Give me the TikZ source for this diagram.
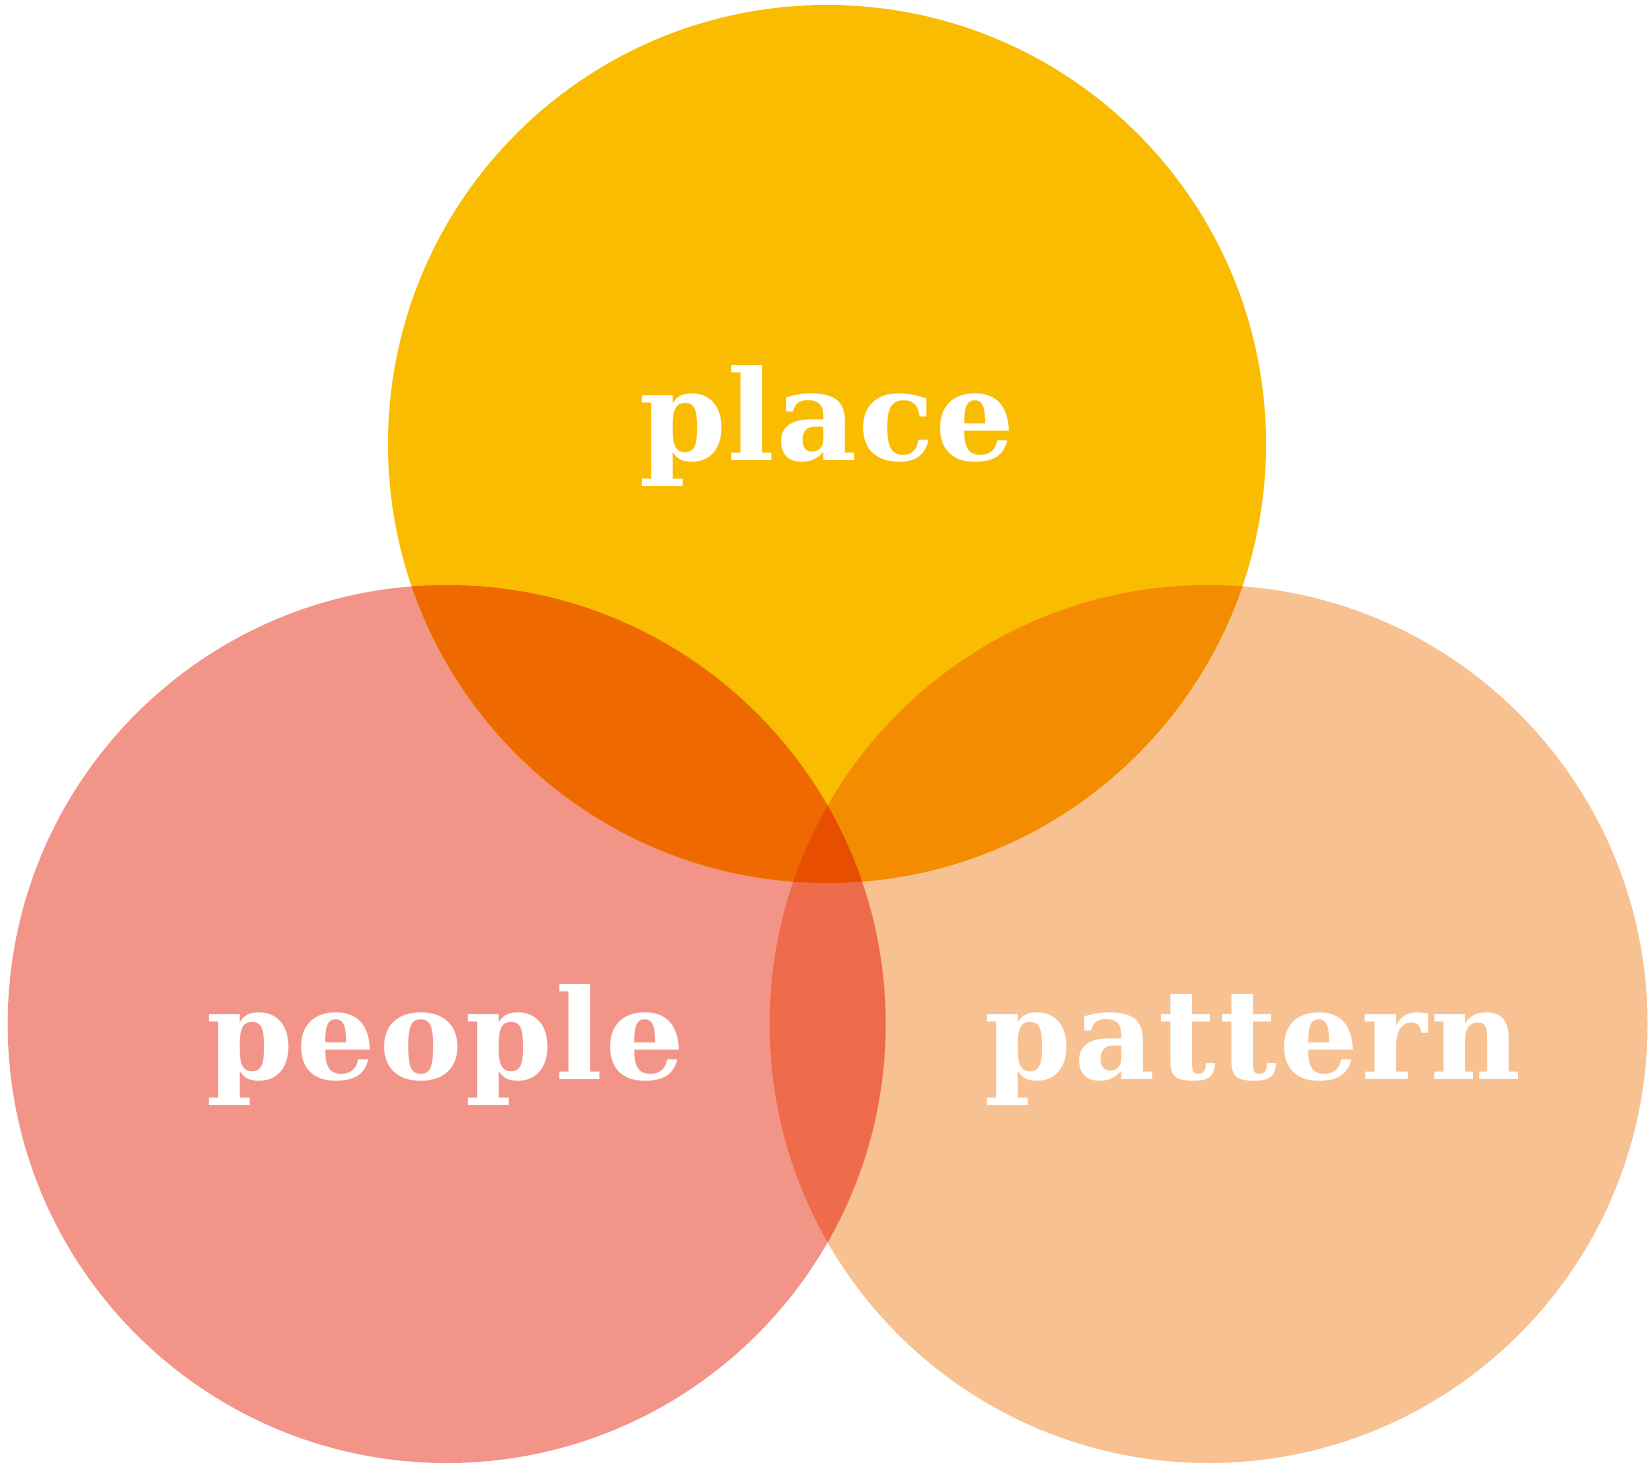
\documentclass[tikz,border=0pt]{standalone}
\usepackage{fontspec}
\newfontfamily\wordfont{DejaVu Serif}
\newfontfamily\wordfontwide[LetterSpace=2.2]{DejaVu Serif}
\newfontfamily\wordfontmid[LetterSpace=0.8]{DejaVu Serif}
\definecolor{cTop}{HTML}{F9BC00}
\definecolor{cLeft}{HTML}{F39488}
\definecolor{cRight}{HTML}{F8C192}
\definecolor{cTL}{HTML}{EE6A00}
\definecolor{cTR}{HTML}{F38C00}
\definecolor{cLR}{HTML}{EE6C4C}
\definecolor{cAll}{HTML}{E84E00}
\tikzset{word/.style={text=white,inner sep=0pt,anchor=base},
  widefont/.style={font=\wordfontwide\bfseries\fontsize{125}{130}\selectfont},
  midfont/.style={font=\wordfontmid\bfseries\fontsize{125}{130}\selectfont}}
\begin{document}
\begin{tikzpicture}[x=1pt,y=-1pt]
\useasboundingbox (0,0) rectangle (1652,1466);
\coordinate (T) at (827,444);
\coordinate (L) at (446.7,1024);
\coordinate (R) at (1208.5,1024);
\def\rad{439}
\fill[cLeft] (L) circle[radius=\rad];
\fill[cRight] (R) circle[radius=\rad];
\fill[cTop] (T) circle[radius=\rad];
\begin{scope}
\clip (T) circle[radius=\rad];
\fill[cTL] (L) circle[radius=\rad];
\fill[cTR] (R) circle[radius=\rad];
\end{scope}
\begin{scope}
\clip (L) circle[radius=\rad];
\fill[cLR] (R) circle[radius=\rad];
\clip (R) circle[radius=\rad];
\fill[cAll] (T) circle[radius=\rad];
\end{scope}
\node[word,midfont] (place) at (827,460) {place};
\node[word,widefont] (people) at (446,1079) {people};
\node[word,widefont] (pattern) at (1253,1079) {pattern};
\end{tikzpicture}
\end{document}
